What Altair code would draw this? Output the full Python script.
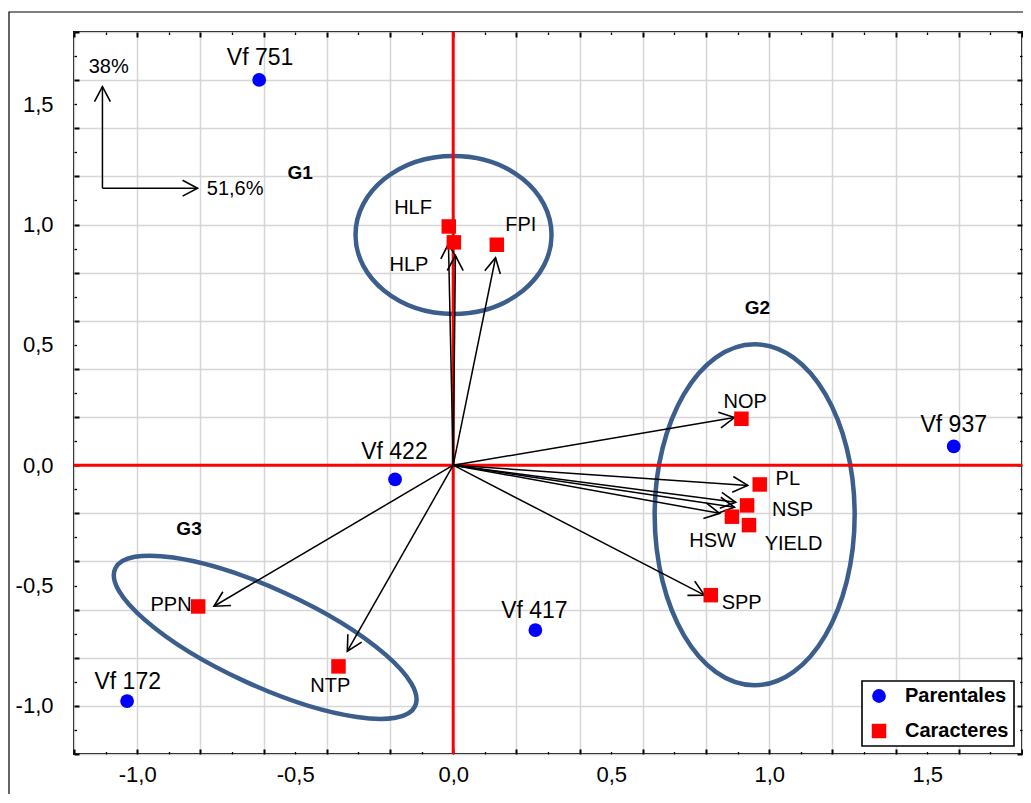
import math
import altair as alt
import pandas as pd

# ---------------- data ----------------
par_names = ["Vf 751", "Vf 422", "Vf 417", "Vf 172", "Vf 937"]
par_x = [-0.614, -0.184, 0.260, -1.032, 1.584]
par_y = [1.601, -0.059, -0.685, -0.980, 0.078]
par_lx = [-0.611, -0.186, 0.257, -1.030, 1.584]
par_ly = [1.692, 0.053, -0.605, -0.901, 0.169]

car_names = ["HLF", "HLP", "FPI", "NOP", "PL", "NSP", "HSW", "YIELD", "SPP", "PPN", "NTP"]
car_x = [-0.014, 0.002, 0.138, 0.912, 0.970, 0.930, 0.882, 0.936, 0.815, -0.807, -0.363]
car_y = [0.992, 0.926, 0.916, 0.193, -0.080, -0.167, -0.214, -0.249, -0.540, -0.587, -0.836]
car_lx = [-0.127, -0.140, 0.214, 0.924, 1.059, 1.074, 0.821, 1.077, 0.913, -0.893, -0.389]
car_ly = [1.067, 0.833, 0.997, 0.263, -0.059, -0.186, -0.316, -0.329, -0.571, -0.582, -0.916]
# arrow tips (vectors from the origin)
tip_x = [-0.015, 0.007, 0.134, 0.890, 0.932, 0.894, 0.843, 0.890, 0.795, -0.757, -0.335]
tip_y = [0.920, 0.871, 0.862, 0.198, -0.084, -0.154, -0.200, -0.175, -0.540, -0.586, -0.773]

# inset axes-percentage arrows
inset_x0 = [-1.110, -1.110]
inset_y0 = [1.151, 1.151]
inset_x1 = [-1.110, -0.809]
inset_y1 = [1.573, 1.151]
inset_text = ["38%", "51,6%"]
inset_tx = [-1.090, -0.690]
inset_ty = [1.653, 1.146]

# groups
grp_names = ["G1", "G2", "G3"]
grp_lx = [-0.484, 0.963, -0.836]
grp_ly = [1.215, 0.655, -0.266]
ell_cx = [0.001, 0.954, -0.595]
ell_cy = [0.957, -0.206, -0.715]

tick_vals = [round(-1.2 + 0.1 * i, 1) for i in range(31)]

# ---------------- styles ----------------
W, H = 948, 722
DOM = [-1.2, 1.8]
FONT = "Liberation Sans"
ELL_COLOR = "#3B5E8C"
ell_semi_a = [98, 170.5, 165]
ell_semi_b = [79, 100, 48.5]
ell_angle = [0, 90, 24.6]

sx = alt.Scale(domain=DOM, nice=False, zero=False)
sy = alt.Scale(domain=DOM, nice=False, zero=False)
px_x = W / (DOM[1] - DOM[0])
px_y = H / (DOM[1] - DOM[0])

is_major = "round(datum.value*10) % 2 == 0"
label_expr = ("round(datum.value*10) % 5 == 0 ? ((datum.value < 0 ? '-' : '') + "
              "replace(format(abs(datum.value), '.1f'), '.', ',')) : ''")


def label_axis(orient, pad):
    return alt.Axis(orient=orient, values=tick_vals, title=None, domain=False,
                    ticks=False, tickSize=0, labelExpr=label_expr, labelOverlap=False,
                    labelFlush=False, labelPadding=pad, labelFontSize=22, labelFont=FONT,
                    labelColor="black", grid=True, gridColor="#d6d6d6", gridWidth=1.5,
                    gridOpacity={"condition": {"test": is_major, "value": 1}, "value": 0})


def tick_axis(orient, offset):
    return alt.Axis(orient=orient, offset=offset, values=tick_vals, title=None,
                    domain=False, labels=False, grid=False, ticks=True, tickColor="black",
                    tickSize={"condition": {"test": is_major, "value": 5}, "value": 2.5},
                    tickWidth={"condition": {"test": is_major, "value": 2}, "value": 1.3})


# ---------------- tables ----------------
pts = pd.DataFrame({
    "x": par_x + car_x,
    "y": par_y + car_y,
    "tipo": ["Parentales"] * len(par_x) + ["Caracteres"] * len(car_x),
})
par_lab = pd.DataFrame({"x": par_lx, "y": par_ly, "t": par_names})
car_lab = pd.DataFrame({"x": car_lx, "y": car_ly, "t": car_names})
grp_lab = pd.DataFrame({"x": grp_lx, "y": grp_ly, "t": grp_names})
ins_lab = pd.DataFrame({"x": inset_tx, "y": inset_ty, "t": inset_text})

arr = pd.DataFrame({
    "x0": [0.0] * len(tip_x) + inset_x0,
    "y0": [0.0] * len(tip_y) + inset_y0,
    "x1": tip_x + inset_x1,
    "y1": tip_y + inset_y1,
})
arr["ang"] = [
    math.degrees(math.atan2(-(r.y1 - r.y0) * px_y, (r.x1 - r.x0) * px_x)) % 360
    for r in arr.itertuples()
]

ell = pd.DataFrame({
    "x": ell_cx, "y": ell_cy,
    "shape": [f"M -1 0 A 1 {b / a:.4f} 0 1 0 1 0 A 1 {b / a:.4f} 0 1 0 -1 0 Z"
              for a, b in zip(ell_semi_a, ell_semi_b)],
    "size": [4 * a * a for a in ell_semi_a],
    "ang": ell_angle,
})

zero = pd.DataFrame({"v": [0.0]})
frame_df = pd.DataFrame({"v": [0]})

# ---------------- layers ----------------
outer = alt.Chart(frame_df).mark_rect(fillOpacity=0, stroke="black", strokeWidth=1.2).encode(
    x=alt.value(-65), x2=alt.value(W + 60), y=alt.value(-20), y2=alt.value(H + 60))

ellipses = alt.Chart(ell).mark_point(filled=False, stroke=ELL_COLOR, strokeWidth=4.5,
                                     opacity=1).encode(
    x=alt.X("x:Q", scale=sx, axis=label_axis("bottom", 10)),
    y=alt.Y("y:Q", scale=sy, axis=label_axis("left", 21)),
    shape=alt.Shape("shape:N", scale=None),
    size=alt.Size("size:Q", scale=None),
    angle=alt.Angle("ang:Q", scale=None),
)

vline = alt.Chart(zero).mark_rule(color="#FF0000", strokeWidth=3).encode(
    x=alt.X("v:Q", scale=sx, axis=None))
hline = alt.Chart(zero).mark_rule(color="#FF0000", strokeWidth=3).encode(
    y=alt.Y("v:Q", scale=sy, axis=None))

lines = alt.Chart(arr).mark_rule(color="black", strokeWidth=1.5).encode(
    x=alt.X("x0:Q", scale=sx, axis=tick_axis("top", -H)),
    y=alt.Y("y0:Q", scale=sy, axis=tick_axis("right", -W)),
    x2="x1:Q", y2="y1:Q",
)

heads = alt.Chart(arr).mark_point(shape="M -1 -0.53 L 0 0 L -1 0.53", size=900,
                                  filled=False, stroke="black", strokeWidth=1.6,
                                  opacity=1).encode(
    x=alt.X("x1:Q", scale=sx, axis=None),
    y=alt.Y("y1:Q", scale=sy, axis=None),
    angle=alt.Angle("ang:Q", scale=None),
)

points = alt.Chart(pts).mark_point(filled=True, opacity=1, strokeWidth=0).encode(
    x=alt.X("x:Q", scale=sx, axis=tick_axis("bottom", -H)),
    y=alt.Y("y:Q", scale=sy, axis=tick_axis("left", -W)),
    color=alt.Color("tipo:N", scale=alt.Scale(domain=["Parentales", "Caracteres"],
                                               range=["#0000FF", "#FF0000"]),
                    legend=alt.Legend(title=None, orient="bottom-right", offset=8,
                                      padding=5, rowPadding=15, symbolOffset=2,
                                      labelOffset=16, labelFontSize=20,
                                      labelFontWeight="bold", labelFont=FONT,
                                      labelColor="black", strokeColor="black",
                                      fillColor="white", symbolStrokeWidth=0)),
    shape=alt.Shape("tipo:N", scale=alt.Scale(domain=["Parentales", "Caracteres"],
                                               range=["circle", "square"]),
                    legend=alt.Legend(title=None, orient="bottom-right")),
    size=alt.Size("tipo:N", scale=alt.Scale(domain=["Parentales", "Caracteres"],
                                             range=[190, 210]),
                  legend=alt.Legend(title=None, orient="bottom-right")),
)


def text_layer(df, size, weight="normal"):
    return alt.Chart(df).mark_text(font=FONT, fontSize=size, fontWeight=weight,
                                   color="black", align="center",
                                   baseline="middle").encode(
        x=alt.X("x:Q", scale=sx, axis=None),
        y=alt.Y("y:Q", scale=sy, axis=None),
        text="t:N",
    )


chart = alt.layer(
    outer, ellipses, vline, hline, lines, heads, points,
    text_layer(par_lab, 23), text_layer(car_lab, 20),
    text_layer(grp_lab, 19, "bold"), text_layer(ins_lab, 20),
).resolve_axis(x="independent", y="independent").properties(
    width=W, height=H,
    padding={"left": 66, "top": 24, "right": 1, "bottom": 40},
    autosize=alt.AutoSizeParams(type="none"),
    background="white",
).configure_view(stroke="black", strokeWidth=2).configure_legend(strokeWidth=1.6)

chart.save("out.html", embed_options={"renderer": "svg", "actions": False})
